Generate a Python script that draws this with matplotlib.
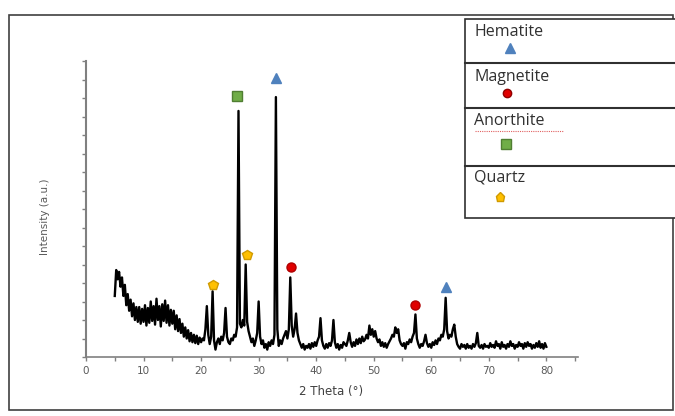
import matplotlib.pyplot as plt
import matplotlib.patches as patches
import numpy as np

# 2 theta grid (0.25 deg steps) and intensity
two_theta = np.arange(5.0, 80.01, 0.25)
intensity = [
    330, 470, 420, 460, 380, 430, 330, 390, 280, 340, 250, 310, 220, 290, 200, 270, 190, 270, 180, 260,
    190, 280, 170, 265, 185, 300, 195, 275, 175, 315, 200, 275, 165, 285, 195, 305, 185, 280, 170, 255,
    180, 250, 150, 225, 140, 205, 130, 180, 110, 160, 100, 145, 85, 130, 80, 120, 75, 115, 70, 105,
    80, 100, 90, 150, 275, 120, 70, 110, 355, 90, 40, 80, 100, 70, 110, 90, 130, 265, 110, 80,
    70, 100, 90, 120, 110, 160, 1330, 180, 160, 200, 170, 500, 190, 140, 110, 80, 100, 60, 90, 130,
    300, 110, 70, 90, 50, 70, 40, 80, 60, 90, 70, 120, 1405, 150, 60, 90, 70, 100, 120, 140,
    100, 150, 430, 170, 110, 150, 235, 130, 90, 70, 50, 70, 40, 60, 50, 70, 45, 75, 55, 80,
    60, 90, 110, 210, 90, 60, 45, 70, 50, 75, 60, 90, 200, 80, 50, 70, 40, 65, 50, 80,
    70, 60, 90, 130, 80, 55, 80, 60, 95, 70, 100, 75, 110, 85, 95, 120, 100, 170, 120, 150,
    110, 140, 100, 80, 95, 60, 80, 55, 75, 50, 70, 85, 100, 120, 110, 160, 130, 150, 90, 70,
    60, 75, 45, 80, 70, 95, 80, 110, 130, 230, 100, 70, 50, 70, 60, 85, 120, 75, 55, 70,
    50, 80, 65, 90, 70, 100, 90, 120, 110, 150, 320, 140, 100, 120, 110, 150, 175, 110, 70, 55,
    45, 70, 55, 65, 45, 70, 50, 60, 45, 70, 55, 75, 130, 60, 50, 65, 45, 70, 55, 60,
    50, 75, 55, 65, 50, 85, 60, 70, 45, 80, 55, 65, 45, 70, 55, 85, 60, 70, 45, 65,
    55, 80, 60, 70, 45, 75, 55, 80, 60, 70, 45, 65, 50, 75, 55, 85, 50, 70, 45, 75,
    55,
]

# phase markers above the peaks
hematite_x = [33.0, 62.5]
hematite_y = [1508, 378]
magnetite_x = [35.6, 57.2]
magnetite_y = [486, 281]
anorthite_x = [26.3]
anorthite_y = [1411]
quartz_x = [22.1, 27.9]
quartz_y = [389, 551]

phases = ["Hematite", "Magnetite", "Anorthite", "Quartz"]

W, H = 675, 416
fig = plt.figure(figsize=(6.75, 4.16), dpi=100)


def fx(px):
    return px / W


def fy(py):
    return 1 - py / H


# outer frame
fig.add_artist(patches.Rectangle((fx(9), fy(410)), fx(673) - fx(9), fy(15) - fy(410),
                                 transform=fig.transFigure, fill=False,
                                 edgecolor="#404040", lw=1.2))

ax = fig.add_axes([fx(86), fy(357), fx(578) - fx(86), fy(61) - fy(357)])
ax.plot(two_theta, intensity, color="black", lw=1.7)

ax.plot(hematite_x, hematite_y, "^", color="#4f81bd", ms=7, ls="none")
ax.plot(magnetite_x, magnetite_y, "o", color="#e00000", mec="#b00000", ms=6.5, ls="none")
ax.plot(anorthite_x, anorthite_y, "s", color="#70ad47", mec="#507e32", ms=7.5, ls="none")
ax.plot(quartz_x, quartz_y, "p", color="#ffc000", mec="#d09a00", ms=7, ls="none")

ax.set_xlim(0, 85.5)
ax.set_ylim(0, 1600)
ax.set_xticks(np.arange(0, 81, 10))
ax.set_xticks(np.arange(5, 86, 5), minor=True)
ax.set_yticks(np.arange(0, 1601, 200))
ax.set_yticks(np.arange(100, 1600, 200), minor=True)
ax.set_yticklabels([])
ax.tick_params(axis="x", colors="#808080", labelcolor="#595959", labelsize=7.5,
               direction="out", length=3, width=1, which="both")
ax.tick_params(axis="y", colors="#808080", direction="out", length=3, width=1, which="both")
for s in ["top", "right"]:
    ax.spines[s].set_visible(False)
ax.spines["left"].set_color("#808080")
ax.spines["bottom"].set_color("#808080")
ax.spines["left"].set_linewidth(1.5)
ax.spines["bottom"].set_linewidth(1.2)

fig.text(fx(331), fy(391), "2 Theta (\u00b0)", ha="center", va="center",
         fontsize=8.5, color="#404040")
fig.text(fx(45), fy(217), "Intensity (a.u.)", ha="center", va="center",
         rotation=90, fontsize=7.5, color="#595959")

# legend table
rows = [19, 63, 108, 166, 218]
fig.add_artist(patches.Rectangle((fx(465), fy(218)), fx(680) - fx(465), fy(19) - fy(218),
                                 transform=fig.transFigure, facecolor="white",
                                 edgecolor="#303030", lw=1.2))
for r in rows[1:-1]:
    fig.add_artist(plt.Line2D([fx(465), fx(680)], [fy(r), fy(r)],
                              transform=fig.transFigure, color="#303030", lw=1.5))
text_y = [32, 77, 121, 178]
for name, ty in zip(phases, text_y):
    fig.text(fx(474), fy(ty), name, ha="left", va="center", fontsize=11.5,
             family="Open Sans", color="#303030")
# spell-check squiggle under Anorthite
fig.add_artist(plt.Line2D([fx(475), fx(563)], [fy(131), fy(131)], transform=fig.transFigure,
                          color="#e06060", lw=0.8, ls=(0, (1, 1))))

leg_marks = [("^", "#4f81bd", "#4f81bd", 510, 48, 7), ("o", "#e00000", "#900000", 507, 93, 6),
             ("s", "#70ad47", "#507e32", 506, 144, 7.5), ("p", "#ffc000", "#d09a00", 500, 197, 6.5)]
for m, c, e, px, py, ms in leg_marks:
    fig.add_artist(plt.Line2D([fx(px)], [fy(py)], transform=fig.transFigure, marker=m,
                              color=c, mec=e, ms=ms, ls="none"))

fig.savefig("out.png", dpi=100)
